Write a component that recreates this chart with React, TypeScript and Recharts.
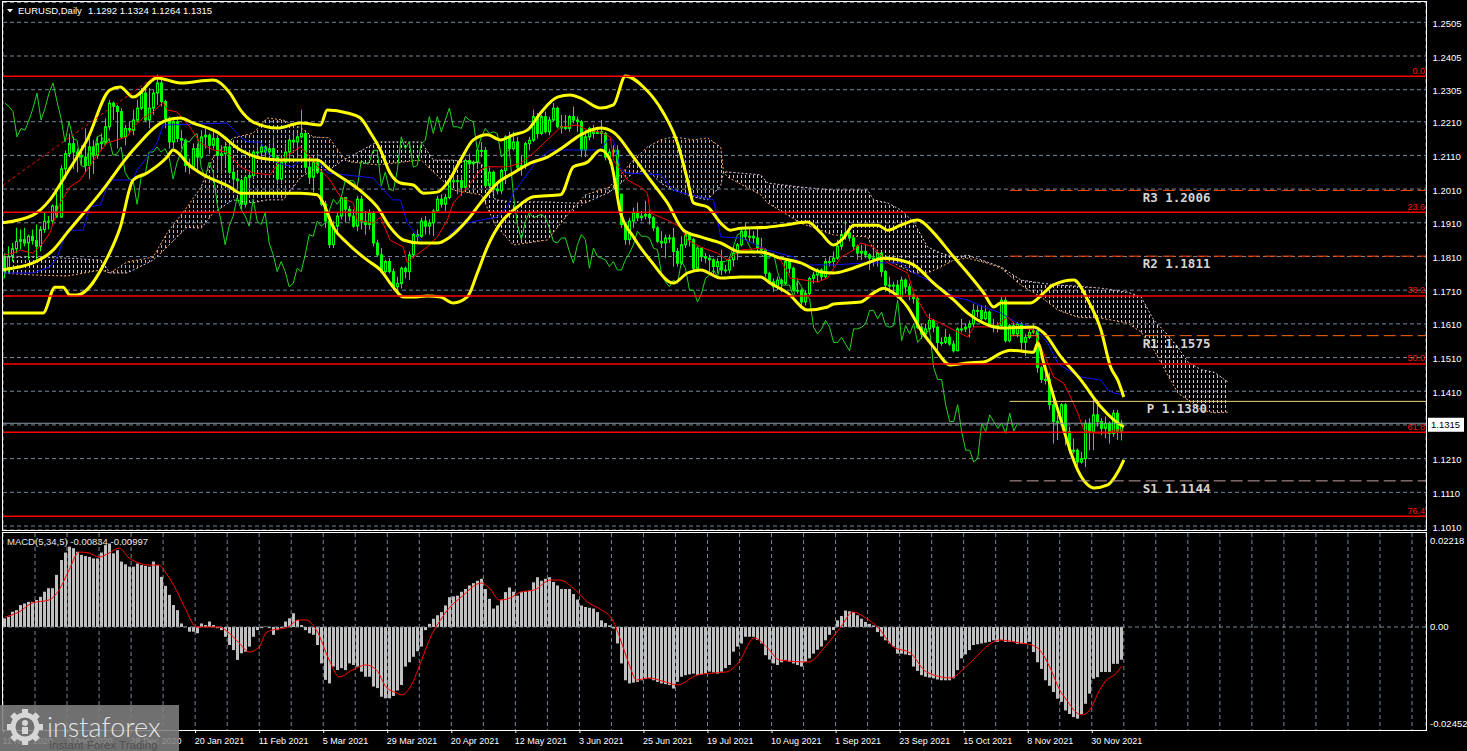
import React from "react";
import { Area, Bar, CartesianGrid, ComposedChart, Line, ReferenceLine, XAxis, YAxis } from "recharts";

const FONT = "'Liberation Sans', Arial, sans-serif";
const MONO = "'DejaVu Sans Mono', 'Liberation Mono', monospace";
const GRID = "#778899";
const LIME = "#00ff00";
const SANDY = "#f4a460";
const THISTLE = "#d8bfd8";
const CHART_W = 1467;

// bottom axis labels, one every 16 daily bars
const dateLabels = [
  "11 Nov 2020", "3 Dec 2020", "28 Dec 2020", "20 Jan 2021", "11 Feb 2021", "5 Mar 2021",
  "29 Mar 2021", "20 Apr 2021", "12 May 2021", "3 Jun 2021", "25 Jun 2021", "19 Jul 2021",
  "10 Aug 2021", "1 Sep 2021", "23 Sep 2021", "15 Oct 2021", "8 Nov 2021", "30 Nov 2021",
];

// daily EURUSD candles in pips (price * 10000)
const opens = [
  11810,11775,11810,11833,11855,11860,11850,11870,11857,11840,
  11890,11915,11915,11960,11927,12070,12115,12145,12120,12110,
  12105,12080,12135,12110,12145,12150,12195,12265,12255,12240,
  12165,12190,12185,12215,12250,12295,12215,12250,12295,12325,
  12270,12220,12150,12210,12160,12155,12080,12075,12130,12105,
  12165,12170,12140,12160,12110,12115,12135,12060,12040,12035,
  11965,12045,12050,12120,12120,12135,12120,12130,12105,12040,
  12090,12120,12155,12150,12165,12175,12075,12045,12090,12060,
  11965,11915,11845,11900,11930,11985,11950,11930,11900,11980,
  11915,11905,11940,11850,11815,11765,11795,11765,11720,11730,
  11775,11765,11815,11875,11870,11915,11900,11910,11945,11980,
  11965,11985,12035,12035,12035,12015,12095,12085,12090,12125,
  12125,12020,12060,12010,12005,12065,12165,12130,12150,12075,
  12080,12145,12155,12225,12175,12225,12180,12215,12250,12195,
  12195,12190,12225,12215,12210,12125,12165,12190,12175,12180,
  12175,12105,12120,12125,11995,11905,11860,11915,11940,11925,
  11930,11935,11925,11895,11855,11850,11865,11865,11825,11790,
  11845,11875,11860,11775,11835,11810,11805,11800,11780,11795,
  11770,11770,11800,11820,11845,11885,11870,11870,11865,11835,
  11830,11760,11735,11720,11740,11730,11795,11775,11710,11710,
  11675,11700,11745,11755,11770,11750,11795,11795,11805,11840,
  11875,11880,11865,11840,11820,11825,11815,11805,11805,11820,
  11765,11725,11725,11725,11690,11740,11720,11695,11685,11600,
  11580,11595,11620,11600,11555,11555,11570,11550,11530,11595,
  11595,11600,11610,11650,11650,11625,11645,11605,11600,11605,
  11680,11560,11605,11580,11610,11555,11570,11585,11590,11480,
  11445,11445,11370,11320,11320,11370,11290,11235,11235,11200,
  11210,11315,11290,11340,11320,11300,11315,11285,11345,11292,
];
const highs = [
  11820,11840,11850,11895,11890,11895,11875,11890,11905,11900,
  11940,11930,11965,12005,12080,12125,12175,12165,12130,12140,
  12190,12165,12155,12165,12175,12220,12275,12270,12260,12250,
  12200,12210,12245,12275,12310,12310,12310,12305,12350,12335,
  12275,12225,12215,12225,12185,12160,12100,12145,12145,12185,
  12190,12175,12180,12170,12140,12150,12150,12080,12060,12040,
  12050,12060,12125,12150,12145,12140,12145,12170,12110,12095,
  12145,12170,12180,12175,12245,12185,12110,12100,12115,12070,
  11975,11920,11915,11940,11990,11985,11960,11950,11990,11990,
  11945,11950,11945,11860,11835,11800,11805,11775,11750,11780,
  11780,11825,11880,11890,11925,11930,11920,11950,11990,11995,
  11995,12050,12080,12045,12050,12100,12115,12095,12130,12150,
  12135,12075,12065,12030,12070,12170,12180,12180,12165,12110,
  12150,12165,12245,12235,12230,12240,12225,12265,12255,12230,
  12230,12230,12255,12225,12215,12185,12195,12200,12195,12215,
  12180,12130,12140,12140,11995,11910,11925,11955,11970,11945,
  11975,11950,11930,11900,11885,11875,11875,11895,11835,11870,
  11880,11880,11865,11840,11835,11820,11815,11805,11805,11830,
  11785,11810,11840,11850,11895,11910,11895,11885,11900,11865,
  11835,11765,11745,11750,11745,11800,11800,11780,11745,11715,
  11710,11750,11765,11775,11775,11805,11810,11825,11860,11880,
  11910,11885,11870,11845,11845,11845,11820,11845,11830,11820,
  11770,11750,11735,11740,11750,11745,11730,11700,11690,11610,
  11610,11640,11625,11605,11570,11595,11580,11560,11600,11625,
  11610,11620,11670,11665,11665,11665,11650,11625,11615,11690,
  11690,11610,11615,11615,11615,11580,11595,11610,11595,11485,
  11465,11465,11385,11340,11375,11375,11305,11270,11240,11230,
  11325,11330,11385,11385,11330,11335,11320,11355,11355,11324,
];
const lows = [
  11745,11760,11795,11820,11830,11840,11800,11845,11800,11825,
  11880,11890,11905,11925,11925,12040,12105,12070,12060,12080,
  12060,12040,12055,12100,12125,12145,12185,12215,12130,12160,
  12140,12175,12170,12210,12245,12210,12190,12230,12260,12255,
  12190,12130,12130,12150,12130,12060,12055,12070,12060,12100,
  12130,12115,12130,12060,12055,12080,12055,12010,12010,11950,
  11955,12020,12040,12110,12100,12095,12110,12095,12025,12025,
  12075,12090,12130,12110,12160,12060,12025,12000,12055,11960,
  11895,11835,11835,11885,11920,11910,11915,11895,11885,11890,
  11875,11890,11840,11810,11760,11760,11760,11710,11705,11715,
  11745,11740,11805,11855,11865,11875,11875,11870,11945,11955,
  11945,11980,12020,11995,11990,12005,12070,12060,12070,12105,
  12015,12015,11985,11995,11995,12025,12125,12125,12065,12050,
  12070,12125,12150,12160,12170,12175,12170,12210,12190,12175,
  12185,12180,12205,12180,12105,12105,12155,12160,12175,12145,
  12095,12085,12105,11990,11895,11845,11845,11895,11915,11915,
  11920,11905,11885,11850,11835,11805,11850,11780,11780,11785,
  11835,11840,11770,11770,11795,11790,11765,11755,11760,11755,
  11760,11760,11780,11800,11840,11860,11855,11850,11825,11820,
  11750,11730,11705,11710,11705,11725,11760,11705,11700,11665,
  11665,11695,11730,11735,11740,11745,11780,11780,11800,11830,
  11860,11855,11830,11800,11800,11805,11770,11780,11780,11750,
  11705,11700,11705,11685,11685,11700,11680,11670,11595,11565,
  11565,11590,11585,11530,11545,11550,11545,11525,11530,11585,
  11585,11570,11600,11630,11620,11620,11600,11585,11585,11600,
  11555,11555,11575,11570,11530,11515,11565,11580,11465,11435,
  11430,11355,11255,11265,11310,11250,11225,11225,11185,11195,
  11185,11235,11235,11305,11280,11270,11255,11275,11265,11264,
];
const closes = [
  11775,11810,11833,11855,11860,11850,11870,11857,11840,11890,
  11915,11915,11960,11927,12070,12115,12145,12120,12110,12105,
  12080,12135,12110,12145,12150,12195,12265,12255,12240,12165,
  12190,12185,12215,12250,12295,12215,12250,12295,12325,12270,
  12220,12150,12210,12160,12155,12080,12075,12130,12105,12165,
  12170,12140,12160,12110,12115,12135,12060,12040,12035,11965,
  12045,12050,12120,12120,12135,12120,12130,12105,12040,12090,
  12120,12155,12150,12165,12175,12075,12045,12090,12060,11965,
  11915,11845,11900,11930,11985,11950,11930,11900,11980,11915,
  11905,11940,11850,11815,11765,11795,11765,11720,11730,11775,
  11765,11815,11875,11870,11915,11900,11910,11945,11980,11965,
  11985,12035,12035,12035,12015,12095,12085,12090,12125,12125,
  12020,12060,12010,12005,12065,12165,12130,12150,12075,12080,
  12145,12155,12225,12175,12225,12180,12215,12250,12195,12195,
  12190,12225,12215,12210,12125,12165,12190,12175,12180,12175,
  12105,12120,12125,11995,11905,11860,11915,11940,11925,11930,
  11935,11925,11895,11855,11850,11865,11865,11825,11790,11845,
  11875,11860,11775,11835,11810,11805,11800,11780,11795,11770,
  11770,11800,11820,11845,11885,11870,11870,11865,11835,11830,
  11760,11735,11720,11740,11730,11795,11775,11710,11710,11675,
  11700,11745,11755,11770,11750,11795,11795,11805,11840,11875,
  11880,11865,11840,11820,11825,11815,11805,11805,11820,11765,
  11725,11725,11725,11690,11740,11720,11695,11685,11600,11580,
  11595,11620,11600,11555,11555,11570,11550,11530,11595,11595,
  11600,11610,11650,11650,11625,11645,11605,11600,11605,11680,
  11560,11605,11580,11610,11555,11570,11585,11590,11480,11445,
  11445,11370,11320,11320,11370,11290,11235,11235,11200,11210,
  11315,11290,11340,11320,11300,11315,11285,11345,11292,11315,
];

// Bollinger-style envelope: [bar index, price]
const bbUpper = [
  [-1.2,1.1909],[7,1.1933],[11.2,1.1978],[15.5,1.2058],[20.5,1.2156],[26.2,1.2304],[28.8,1.2313],[32,1.2283],
  [38,1.234],[43.8,1.2325],[52,1.2334],[56.2,1.2295],[58.8,1.2245],[62,1.2209],[68,1.2191],[73.8,1.2206],
  [78.8,1.22],[80.5,1.2245],[85.5,1.2236],[88.8,1.2221],[91.2,1.2179],[93.8,1.2126],[96.2,1.2058],[98.8,1.2028],
  [102,1.2022],[104.5,1.1998],[108,1.2001],[110.5,1.2028],[113.8,1.2096],[117,1.2156],[120.5,1.2171],[123.8,1.2156],
  [127,1.2171],[130.5,1.2185],[133.8,1.2236],[138,1.2283],[141.2,1.2289],[143.8,1.228],[148.8,1.2251],[152,1.226],
  [155,1.2346],[159.5,1.2313],[164.5,1.2236],[168,1.2147],[170.5,1.2037],[172,1.1969],[175.5,1.1957],[178.8,1.1909],
  [181.2,1.1888],[183.8,1.1894],[190.5,1.1897],[194.5,1.1903],[200.5,1.1912],[203.8,1.188],[207,1.1844],[209.5,1.1865],
  [212,1.1903],[218,1.1903],[220.5,1.1888],[223.8,1.1903],[228,1.1918],[232,1.188],[236.2,1.182],[240.5,1.1761],
  [244.5,1.1702],[247,1.166],[248.8,1.1672],[256.2,1.1672],[259.5,1.1702],[261.8,1.1725],[267,1.174],[270.5,1.1681],
  [273.8,1.1592],[276.2,1.1482],[278,1.1443],[279.5,1.1393],
];
const bbMiddle = [
  [-1.2,1.177],[7,1.1791],[12,1.1829],[15.5,1.188],[23.8,1.1998],[32,1.2126],[40.5,1.2215],[43.8,1.2221],
  [47,1.2206],[53,1.2179],[58.8,1.2126],[63.8,1.2102],[68.8,1.2096],[78,1.2096],[81.2,1.2067],[86.2,1.2028],
  [89.5,1.1998],[93,1.1957],[96.2,1.1897],[99.5,1.1859],[103.8,1.185],[108,1.185],[111.2,1.1868],[115.5,1.1918],
  [118.8,1.1969],[123,1.2028],[127,1.2058],[131.2,1.2087],[135.5,1.2105],[139.5,1.2135],[143.8,1.2171],[148.8,1.2191],
  [152,1.2179],[157,1.2105],[161.2,1.2037],[165.5,1.1969],[169.5,1.1888],[173.8,1.1868],[178.8,1.185],[183.8,1.1823],
  [188.8,1.1823],[193.8,1.1805],[198.8,1.1791],[203.8,1.1764],[207,1.1761],[210.5,1.177],[215.5,1.1791],[219.5,1.1805],
  [223.8,1.1799],[227,1.1785],[232,1.1731],[237,1.1681],[240.5,1.1642],[244.5,1.1612],[248.8,1.1598],[257,1.1601],
  [259.5,1.1583],[263.8,1.1512],[268.8,1.1443],[273.8,1.1363],[277,1.1325],[279.5,1.1304],
];
const bbLower = [
  [-1.2,1.1642],[9.5,1.1642],[12.5,1.1719],[14.5,1.1719],[16.2,1.1696],[18,1.1696],[25.5,1.1805],[28.8,1.1897],
  [32,1.2037],[35.5,1.2058],[40.5,1.2105],[42,1.2126],[43.8,1.2111],[45.5,1.2087],[48.8,1.2058],[56.2,1.2016],
  [58.8,1.1998],[65.5,1.1998],[73.8,1.1998],[78,1.1993],[79.5,1.1969],[82,1.1897],[85.5,1.185],[90.5,1.1799],
  [93.8,1.177],[97,1.1719],[99.5,1.169],[102,1.169],[105.5,1.1693],[108.8,1.169],[112,1.1672],[115.5,1.169],
  [118,1.1761],[120.5,1.1838],[123.8,1.1909],[128,1.1957],[132,1.1987],[138.8,1.1993],[142,1.2076],[145.5,1.209],
  [148.8,1.2126],[151.2,1.2096],[153.8,1.1939],[157,1.1868],[161.2,1.1799],[167,1.1731],[170.5,1.1761],[173.8,1.177],
  [178.8,1.1746],[183.8,1.1749],[188.8,1.1749],[191.2,1.1731],[195.5,1.1702],[200.5,1.1651],[205.5,1.166],[207,1.1669],
  [213.8,1.1675],[217,1.1702],[219.5,1.1716],[222,1.1702],[225.5,1.166],[228.8,1.1592],[232,1.1541],[236.2,1.1488],
  [240.5,1.1494],[244.5,1.1497],[248.8,1.1523],[251.2,1.1532],[257,1.1526],[258,1.1553],[259.5,1.1494],[262,1.1393],
  [263.8,1.1325],[265.5,1.1256],[268,1.1176],[270.5,1.1132],[272,1.1123],[275.5,1.1132],[278,1.117],[279.5,1.1206],
];

// Ichimoku lines: [bar index, price]
const kijun = [
  [-1.2,1.1761],[7,1.1761],[11.2,1.1779],[13,1.1808],[15.5,1.1888],[19.5,1.1888],[21.2,1.1957],[23.8,1.1963],
  [26.2,1.2037],[32,1.2037],[33,1.2067],[35.5,1.2105],[38,1.2147],[39.5,1.22],[55.5,1.2206],[58.8,1.2165],
  [60.5,1.215],[63.8,1.215],[65.5,1.2117],[68,1.2087],[72,1.2076],[73.8,1.2096],[78,1.2096],[80.5,1.2058],
  [92,1.2043],[94.5,1.2007],[97,1.1978],[98.8,1.1978],[100.5,1.1909],[104.5,1.185],[109.5,1.185],[112,1.1888],
  [115.5,1.1909],[118.8,1.1918],[123,1.1927],[125.5,1.1957],[127,1.1998],[128.8,1.2028],[133,1.2096],[136.2,1.2126],
  [148.8,1.2126],[150.5,1.2156],[152,1.2156],[153.8,1.2067],[155.5,1.2058],[163.8,1.2052],[167,1.2007],[169.5,1.1998],
  [173.8,1.1987],[177,1.1978],[178.8,1.1868],[183.8,1.1865],[190.5,1.1829],[197,1.1808],[199.5,1.1785],[207,1.1785],
  [215.5,1.1791],[223.8,1.1791],[227,1.1761],[230.5,1.174],[233.8,1.1719],[237,1.169],[240.5,1.1681],[244.5,1.166],
  [248.8,1.1642],[253,1.1612],[257,1.1601],[260.5,1.1553],[263,1.1494],[265.5,1.1473],[268.8,1.1452],[273.8,1.1443],
  [275.5,1.1414],[277,1.1405],[279.5,1.1399],
];
const tenkan = [
  [-0.5,1.1814],[2,1.182],[3.8,1.1829],[7,1.182],[9.5,1.185],[11.2,1.188],[13.8,1.1969],[16.2,1.2016],
  [18.8,1.2037],[23,1.2111],[25.5,1.2147],[28,1.2156],[30.5,1.2165],[32,1.2194],[34.5,1.2221],[37,1.2239],
  [39.5,1.2268],[40.5,1.2245],[43,1.2239],[46.2,1.2194],[48.8,1.2147],[52,1.2126],[55.5,1.212],[58.8,1.2076],
  [62,1.2058],[66.2,1.2052],[68.8,1.2096],[73.8,1.2135],[77,1.2096],[78.8,1.2067],[81.2,1.2037],[83.8,1.1987],
  [87,1.1969],[88,1.1918],[92,1.1909],[93.8,1.1927],[96.2,1.1859],[99.5,1.1838],[100.5,1.1791],[102,1.1808],
  [105.5,1.1838],[108,1.1868],[110.5,1.1918],[112,1.1969],[115.5,1.2016],[118.8,1.2067],[120.5,1.2076],[125.5,1.2076],
  [128.8,1.2087],[132,1.2117],[135.5,1.2156],[138.8,1.2194],[143,1.22],[145.5,1.2185],[148.8,1.2179],[151.2,1.2165],
  [152,1.2096],[155.5,1.2037],[158.8,1.2016],[160.5,1.1998],[161.2,1.1939],[165.5,1.1918],[168.8,1.1897],[170.5,1.1859],
  [173.8,1.1838],[178,1.182],[180.5,1.1799],[183.8,1.1829],[189.5,1.1835],[190.5,1.182],[193.8,1.1799],[196.2,1.1746],
  [203,1.1734],[205.5,1.1746],[208.8,1.1808],[212,1.1829],[213.8,1.185],[217,1.1838],[220.5,1.1791],[225.5,1.1761],
  [227,1.1702],[230.5,1.163],[233.8,1.1612],[237,1.1592],[240.5,1.1571],[242,1.1601],[247,1.1601],[250.5,1.163],
  [253,1.1601],[257,1.1592],[258.8,1.1541],[260.5,1.1494],[262,1.1452],[264.5,1.1434],[266.2,1.1393],[268,1.1345],
  [269.5,1.1295],[272,1.1286],[275.5,1.1286],[277,1.1295],[279.5,1.1295],
];
// Senkou spans (shifted 26 bars ahead): [bar index, span A, span B]
const senkou = [
  [-1.2,1.1761,1.1808],[7,1.1755,1.1808],[15.5,1.1752,1.1805],[24,1.177,1.1799],[26.2,1.1761,1.1761],
  [30.5,1.1794,1.1761],[37,1.1808,1.1799],[40.5,1.188,1.1838],[45.5,1.1957,1.1897],[49,1.2016,1.1894],
  [52,1.2105,1.1939],[57,1.2162,1.1978],[62,1.2176,1.1969],[65.5,1.2221,1.1978],[69.5,1.2215,1.1978],
  [74,1.2191,1.2046],[77,1.2165,1.2067],[81,1.2162,1.2067],[84.5,1.2105,1.2096],[86,1.2091,1.2105],
  [93,1.2082,1.215],[104,1.2096,1.215],[107,1.2061,1.2096],[112,1.2007,1.2096],[119,1.1993,1.2087],
  [122.5,1.1903,1.1978],[127,1.1844,1.1972],[135.5,1.1859,1.1972],[140.5,1.1933,1.1969],[145,1.1993,1.1969],
  [151,1.2016,1.2001],[157,1.2096,1.2058],[160.5,1.2135,1.2067],[163.8,1.2156,1.2028],[167,1.2165,1.2007],
  [172,1.2156,1.1987],[175.5,1.2162,1.1978],[178.8,1.2135,1.202],[179.5,1.2061,1.2061],[180.5,1.2046,1.2061],
  [188.8,1.1993,1.2052],[190.5,1.1969,1.2028],[198.8,1.1909,1.2016],[207,1.1874,1.2007],[215.5,1.1868,1.2007],
  [217,1.1829,1.1978],[220.5,1.18,1.1969],[223.8,1.1779,1.1948],[227,1.1761,1.1912],[230.5,1.1761,1.1838],
  [233.8,1.1779,1.182],[237,1.1799,1.1808],[240.5,1.1805,1.1814],[245.5,1.179,1.1793],[248.8,1.1776,1.1779],
  [253.8,1.1725,1.174],[258.8,1.169,1.1731],[263,1.1651,1.1725],[268,1.163,1.1722],[273.8,1.1627,1.1716],
  [280.5,1.1612,1.1704],[283.8,1.1586,1.169],[287,1.1533,1.1621],[290.5,1.1458,1.1577],[293,1.1405,1.1541],
  [295.5,1.1384,1.1497],[298.8,1.1355,1.1474],[302,1.1346,1.1467],[305.5,1.1348,1.1438],
];

// MACD(5,34,5) histogram per bar, in units of 0.00001
const macdHist = [
  220,260,390,430,560,600,640,640,690,770,
  900,990,990,1330,1710,1900,2050,2010,1920,1840,
  1810,1790,1750,1750,1900,2090,2130,1880,1960,1670,
  1600,1540,1540,1620,1580,1560,1540,1670,1580,1280,
  1050,820,560,430,90,10,-120,-120,-160,90,
  50,140,50,-30,-80,-250,-460,-590,-840,-670,
  -630,-500,-250,-80,-30,10,-30,-200,-80,-30,
  140,220,350,180,50,-80,-160,-200,-460,-930,
  -1350,-1440,-1010,-1100,-1050,-1100,-930,-970,-1010,-1140,
  -1270,-1270,-1520,-1560,-1780,-1820,-1820,-1760,-1620,-1480,
  -1010,-900,-760,-620,-500,-80,80,210,300,380,
  550,760,780,800,900,970,1060,1120,1180,1230,
  970,720,470,550,700,890,1010,900,800,890,
  910,930,1140,1270,1180,1230,1270,1150,1060,970,
  970,970,840,700,550,510,490,470,380,170,
  100,40,-40,-420,-930,-1360,-1440,-1420,-1400,-1360,
  -1330,-1310,-1360,-1400,-1440,-1460,-1480,-1570,-1400,-1270,
  -1230,-1210,-1190,-1230,-1210,-1190,-1140,-1160,-1190,-1140,
  -1050,-970,-630,-500,-420,-250,-250,-250,-330,-420,
  -720,-830,-930,-970,-900,-840,-890,-930,-970,-1010,
  -890,-800,-680,-580,-500,-340,-200,-80,170,280,
  420,400,380,300,210,130,80,40,-130,-240,
  -340,-420,-500,-680,-680,-700,-720,-1010,-1120,-1230,
  -1270,-1290,-1310,-1340,-1360,-1360,-1360,-1310,-1100,-800,
  -700,-590,-460,-440,-420,-400,-380,-340,-380,-330,
  -380,-380,-380,-430,-430,-430,-380,-640,-900,-1070,
  -1360,-1500,-1660,-1830,-1910,-2130,-2220,-2300,-2340,-2220,
  -1960,-1700,-1320,-1280,-1150,-1150,-1150,-940,-940,-834,
];
// signal line: [bar index, value in 0.00001]
const macdSignal = [
  [0,255],[3.5,383],[6.8,612],[11,689],[13.5,944],[16,1454],[18.5,1913],[21,1887],[23.5,1785],[26,1887],
  [28.5,2015],[31,1760],[33.5,1632],[36,1581],[38.5,1581],[40.2,1377],[42.8,944],[45.2,434],[47.8,0],[53.5,0],
  [56,-153],[58.5,-408],[61,-638],[63.5,-510],[65.2,-153],[66.8,-77],[70.2,-26],[73.5,179],[75.2,179],[77.8,-77],
  [81,-842],[83.5,-1275],[86.8,-1097],[90.2,-969],[92.8,-1097],[95.2,-1530],[97.8,-1683],[99,-1734],[101.8,-1428],
  [103.8,-918],[106.8,-153],[108.8,179],[111.2,510],[114,765],[119,1122],[121,995],[123.5,689],[126.2,740],
  [128.8,893],[132.2,944],[136.2,1199],[138.5,1199],[142.5,944],[145.5,638],[149,434],[151.8,179],[153.8,-332],
  [155.8,-918],[157.8,-1352],[160.8,-1301],[165,-1403],[168,-1479],[173,-1224],[177.2,-1173],[180.2,-1148],
  [183.2,-918],[187.2,-281],[190.5,-536],[193.5,-842],[200.8,-893],[204.8,-510],[208.8,0],[211.8,383],[215,230],
  [218,0],[222,-510],[226.2,-663],[230.2,-1148],[236.2,-1301],[240.5,-969],[246.5,-408],[248.5,-332],[253.5,-408],
  [256.5,-459],[258.5,-587],[261,-1020],[263.5,-1607],[265.2,-1862],[267.8,-2193],[269.2,-2244],[271,-2117],
  [273.5,-1607],[275.2,-1352],[277.2,-1224],[279,-997],
];

const priceTicks = [1.2505,1.2405,1.2305,1.221,1.211,1.201,1.191,1.181,1.171,1.161,1.151,1.141,1.131,1.121,1.111,1.101];
const lastPrice = 1.1315;
const fibLabels = ["0.0", "23.6", "38.2", "50.0", "61.8", "76.4"];
const fibPrices = [1.2345, 1.1941, 1.1693, 1.1491, 1.1288, 1.1039];
const fibTrend = [[-0.5, 1.2022], [37.5, 1.2345]];
const pivotNames = ["R3", "R2", "R1", "P", "S1"];
const pivotPrices = [1.2006, 1.1811, 1.1575, 1.138, 1.1144];
const pivotStartBar = 251;
const macdTicks = [0.02218, 0, -0.02452];
const macdTickLabels = ["0.02218", "0.00", "-0.02452"];

const pivotStroke: Record<string, string> = { R3: "#ff4500", R2: "#ff4500", R1: "#ff6a10", P: "#e8d27a", S1: "#c8a0a0" };

// --- derived chart rows ---
const candles = closes.map((c, i) => ({ i, o: opens[i] / 1e4, h: highs[i] / 1e4, l: lows[i] / 1e4, c: c / 1e4 }));
const chikou = closes.slice(26).map((c, k) => ({ i: k, v: c / 1e4 }));
const toPts = (arr: number[][]) => arr.map(([i, v]) => ({ i, v }));
const cloud = senkou.map(([i, a, b]) => ({ i, a, b }));
const macdRows = macdHist.map((m, i) => ({ i, m: m / 1e5 }));
const signalRows = macdSignal.map(([i, v]) => ({ i, v: v / 1e5 }));
const gridTicks = Array.from({ length: 45 }, (_, k) => 8 * k - 0.5);
const X_DOMAIN: [number, number] = [-0.5, 355];

function CandleShape(props: any) {
  const { x, y, width, height, payload } = props;
  if (!payload || !Number.isFinite(y)) return <g />;
  const top = Math.min(y, y + height);
  const bot = Math.max(y, y + height);
  const span = payload.h - payload.l || 1e-9;
  const toY = (p: number) => top + ((payload.h - p) / span) * (bot - top);
  const cx = Math.floor(x + width / 2) + 0.5;
  const yo = toY(payload.o);
  const yc = toY(payload.c);
  const bTop = Math.min(yo, yc);
  const bH = Math.max(1, Math.abs(yc - yo));
  const bull = payload.c >= payload.o;
  return (
    <g>
      <line x1={cx} x2={cx} y1={top} y2={bot} stroke={LIME} strokeWidth={1} />
      <rect x={cx - 1} y={bTop} width={2} height={bH} fill={bull ? "#000" : LIME} stroke={LIME} strokeWidth={1} />
    </g>
  );
}

function HistShape(props: any) {
  const { x, y, width, height } = props;
  if (!Number.isFinite(y)) return <g />;
  const top = Math.min(y, y + height);
  const h = Math.abs(height);
  const cx = Math.floor(x + width / 2);
  return <rect x={cx - 1} y={top} width={3} height={Math.max(h, 0.5)} fill="#c0c0c0" />;
}

function PriceTick(props: any) {
  const { x, y, payload } = props;
  if (Math.abs(payload.value - 1.131) < 1e-6) return <g />;
  return (
    <text x={x + 6.5} y={y + 4.5} fill="#fff" fontSize={9.5} fontFamily={FONT}>
      {payload.value.toFixed(4)}
    </text>
  );
}

function MacdTick(props: any) {
  const { x, y, index } = props;
  return (
    <text x={x + 4} y={y + 3.5} fill="#fff" fontSize={9.5} fontFamily={FONT}>
      {macdTickLabels[index]}
    </text>
  );
}

function DateTick(props: any) {
  const { x, y, payload } = props;
  const k = Math.round((payload.value + 0.5) / 8);
  if (k % 2 !== 0) return <g />;
  const label = dateLabels[k / 2];
  if (!label) return <g />;
  return (
    <g>
      <line x1={x + 0.5} x2={x + 0.5} y1={y} y2={y + 3} stroke="#fff" />
      <text x={x - 0.5} y={y + 13.5} fill="#fff" fontSize={9} fontFamily={FONT}>
        {label}
      </text>
    </g>
  );
}

const line = { dot: false, activeDot: false, isAnimationActive: false, connectNulls: true } as const;

export default function App() {
  return (
    <div style={{ position: "absolute", left: 0, top: 0, width: CHART_W, height: 751, background: "#000", overflow: "hidden" }}>
      <div style={{ position: "absolute", left: 0, top: 531 }}>
        <ComposedChart width={CHART_W} height={220} data={macdRows} margin={{ top: 2, right: 0, bottom: 0, left: 3 }}>
          <CartesianGrid stroke={GRID} strokeDasharray="4 3" horizontal={false} />
          <XAxis dataKey="i" type="number" domain={X_DOMAIN} ticks={gridTicks} interval={0} height={21}
            axisLine={false} tickLine={false} tickSize={0} tickMargin={0} tick={<DateTick />} allowDataOverflow />
          <YAxis orientation="right" type="number" domain={[-0.02629, 0.02399]} ticks={macdTicks} interval={0}
            width={41} axisLine={false} tickLine={false} tickSize={0} tickMargin={0} tick={<MacdTick />} allowDataOverflow />
          <ReferenceLine y={0} stroke={GRID} strokeDasharray="4 3" />
          <Bar dataKey="m" barSize={3} shape={<HistShape />} isAnimationActive={false} />
          <Line data={signalRows} dataKey="v" type="monotone" stroke="#ff0000" strokeWidth={1} {...line} />
        </ComposedChart>
      </div>

      <div style={{ position: "absolute", left: 0, top: 0 }}>
        <ComposedChart width={CHART_W} height={541} data={candles} margin={{ top: 2.5, right: 0, bottom: 11, left: 3 }}>
          <defs>
            <pattern id="hatchSandy" patternUnits="userSpaceOnUse" x={1} width={4} height={5}>
              <line x1={0.5} x2={0.5} y1={0} y2={3} stroke={SANDY} strokeWidth={1} />
            </pattern>
            <pattern id="hatchThistle" patternUnits="userSpaceOnUse" x={1} width={4} height={5}>
              <line x1={0.5} x2={0.5} y1={0} y2={3} stroke={THISTLE} strokeWidth={1} />
            </pattern>
          </defs>
          <CartesianGrid stroke={GRID} strokeDasharray="4 3" />
          <XAxis dataKey="i" type="number" domain={X_DOMAIN} ticks={gridTicks} interval={0} height={0}
            tick={false} axisLine={false} tickLine={false} allowDataOverflow />
          <YAxis orientation="right" type="number" domain={[1.09982, 1.25638]} ticks={priceTicks} interval={0}
            width={41} axisLine={false} tickLine={false} tickSize={0} tickMargin={0} tick={<PriceTick />} allowDataOverflow />

          <Area data={cloud} dataKey={(d: any) => (d.a >= d.b ? [d.b, d.a] : [d.a, d.a])} stroke="none"
            fill="url(#hatchSandy)" fillOpacity={1} isAnimationActive={false} activeDot={false} />
          <Area data={cloud} dataKey={(d: any) => (d.b > d.a ? [d.a, d.b] : [d.b, d.b])} stroke="none"
            fill="url(#hatchThistle)" fillOpacity={1} isAnimationActive={false} activeDot={false} />
          <Line data={cloud} dataKey="a" stroke={SANDY} strokeWidth={1} strokeDasharray="2 2" {...line} />
          <Line data={cloud} dataKey="b" stroke={THISTLE} strokeWidth={1} strokeDasharray="2 2" {...line} />

          <Bar dataKey={(d: any) => [d.l, d.h]} barSize={3} shape={<CandleShape />} isAnimationActive={false} />

          <Line data={chikou} dataKey="v" stroke="#22d422" strokeWidth={1} {...line} />
          <Line data={toPts(kijun)} dataKey="v" stroke="#1010ff" strokeWidth={1} {...line} />
          <Line data={toPts(tenkan)} dataKey="v" stroke="#ff0000" strokeWidth={1} {...line} />

          <Line data={toPts(bbUpper)} dataKey="v" type="monotone" stroke="#ffff00" strokeWidth={3} {...line} />
          <Line data={toPts(bbMiddle)} dataKey="v" type="monotone" stroke="#ffff00" strokeWidth={3} {...line} />
          <Line data={toPts(bbLower)} dataKey="v" type="monotone" stroke="#ffff00" strokeWidth={3} {...line} />

          <Line data={toPts(fibTrend)} dataKey="v" stroke="#ff0000" strokeWidth={1} strokeDasharray="3 3" {...line} />
          {fibPrices.map((p, k) => (
            <ReferenceLine key={"fib" + k} y={p} stroke="#ff0000" strokeWidth={1.5}
              label={(lp: any) => (
                <text x={lp.viewBox.x + lp.viewBox.width - 1} y={lp.viewBox.y - 2.5} textAnchor="end"
                  fill="#ff1010" fontSize={9} fontFamily={FONT}>{fibLabels[k]}</text>
              )} />
          ))}
          <ReferenceLine y={lastPrice} stroke="#8f9bab" strokeWidth={1}
            label={(lp: any) => (
              <g>
                <rect x={lp.viewBox.x + lp.viewBox.width + 2} y={lp.viewBox.y - 5.5} width={36} height={14} fill="#fff" />
                <text x={lp.viewBox.x + lp.viewBox.width + 5} y={lp.viewBox.y + 5} fill="#000" fontSize={9.5} fontFamily={FONT}>
                  {lastPrice.toFixed(4)}
                </text>
              </g>
            )} />
          {pivotPrices.map((p, k) => (
            <ReferenceLine key={"pv" + k} segment={[{ x: pivotStartBar, y: p }, { x: 355, y: p }]}
              stroke={pivotStroke[pivotNames[k]]} strokeWidth={1}
              strokeDasharray={pivotNames[k] === "P" ? undefined : "12 5"}
              label={(lp: any) => (
                <text x={lp.viewBox.x + (pivotNames[k] === "P" ? 137 : 133)} y={lp.viewBox.y + 12}
                  fill="#d4d4d4" fontSize={12.5} fontWeight="bold" fontFamily={MONO}>
                  {pivotNames[k] + " " + p.toFixed(4)}
                </text>
              )} />
          ))}
        </ComposedChart>
      </div>

      <svg width={CHART_W} height={751} style={{ position: "absolute", left: 0, top: 0, pointerEvents: "none" }}>
        <rect x={2.5} y={1.5} width={1424} height={529} fill="none" stroke="#fff" />
        <rect x={2.5} y={532.5} width={1424} height={198} fill="none" stroke="#fff" />
        <polygon points="7,9 13,9 10,12.5" fill="#fff" />
        <text x={18} y={14} fill="#fff" fontSize={9.5} fontFamily={FONT}>EURUSD,Daily</text>
        <text x={88} y={14} fill="#fff" fontSize={9.5} fontFamily={FONT}>1.1292 1.1324 1.1264 1.1315</text>
        <text x={7} y={545} fill="#e8e8e8" fontSize={9.5} fontFamily={FONT}>MACD(5,34,5) -0.00834 -0.00997</text>
        <g>
          <rect x={0} y={705} width={179} height={46} fill="#808080" opacity={0.88} />
          <circle cx={25} cy={727} r={12} fill="none" stroke="#d6d6d6" strokeWidth={5} />
          {[0, 45, 90, 135, 180, 225, 270, 315].map((a) => (
            <rect key={a} x={22} y={709} width={6} height={6} fill="#d6d6d6" transform={`rotate(${a} 25 727)`} />
          ))}
          <circle cx={25} cy={723} r={3} fill="#d6d6d6" />
          <rect x={22} y={727} width={6} height={7} fill="#d6d6d6" />
          <text x={47} y={737} fill="#e4e4e4" fontSize={27} fontFamily="Lato, 'Open Sans', sans-serif" fontWeight={300}>
            instaforex
          </text>
          <text x={49} y={749} fill="#505050" fontSize={11.5} fontFamily={FONT}>Instant Forex Trading</text>
        </g>
      </svg>
    </div>
  );
}
